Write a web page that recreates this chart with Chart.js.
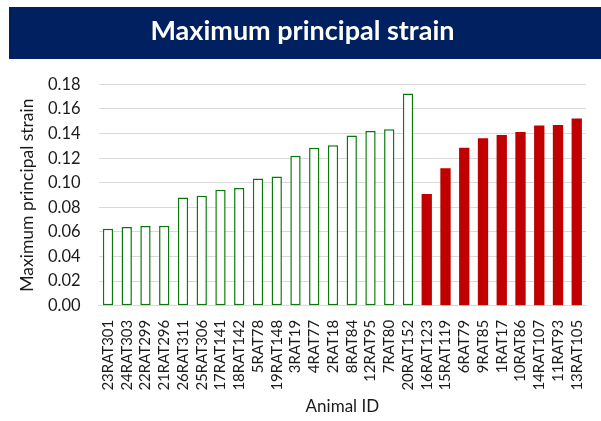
<!DOCTYPE html>
<html>
<head>
<meta charset="utf-8">
<script src="https://cdn.jsdelivr.net/npm/chart.js@4"></script>
<style>
    html, body { margin: 0; padding: 0; background: #fff; }
    #wrap { width: 601px; height: 421px; position: relative; }
</style>
</head>
<body>
<div id="wrap"><canvas id="strainChart" width="601" height="421"></canvas></div>
<script>
// 동물 ID (x축)
const animalIds = [
    '23RAT301', '24RAT303', '22RAT299', '21RAT296', '26RAT311', '25RAT306',
    '17RAT141', '18RAT142', '5RAT78', '19RAT148', '3RAT19', '4RAT77',
    '2RAT18', '8RAT84', '12RAT95', '7RAT80', '20RAT152',
    '16RAT123', '15RAT119', '6RAT79', '9RAT85', '1RAT17', '10RAT86',
    '14RAT107', '11RAT93', '13RAT105'
];

// 녹색 외곽선 막대 (앞 17개)
const outlineValues = [
    0.0627, 0.0640, 0.0649, 0.0650, 0.0881, 0.0895,
    0.0943, 0.0957, 0.1035, 0.1052, 0.1219, 0.1284,
    0.1305, 0.1384, 0.1421, 0.1435, 0.1725
];

// 빨간 채움 막대 (뒤 9개)
const filledValues = [
    0.0908, 0.1119, 0.1284, 0.1362, 0.1389, 0.1413, 0.1465, 0.1470, 0.1522
];

const yTicks = [0, 0.02, 0.04, 0.06, 0.08, 0.10, 0.12, 0.14, 0.16, 0.18];

const pad = (arr, before, after) =>
    Array(before).fill(null).concat(arr, Array(after).fill(null));

// 제목 배경 띠
const bannerPlugin = {
    id: 'banner',
    beforeDraw(chart) {
        const ctx = chart.ctx;
        ctx.save();
        ctx.fillStyle = '#002060';
        ctx.fillRect(9, 7, 592, 52);
        ctx.restore();
    }
};

const ctx = document.getElementById('strainChart').getContext('2d');
new Chart(ctx, {
    type: 'bar',
    data: {
        labels: animalIds,
        datasets: [
            {
                label: 'outline',
                data: pad(outlineValues, 0, filledValues.length),
                backgroundColor: '#ffffff',
                borderColor: '#0a780a',
                borderWidth: 1.5,
                borderSkipped: false
            },
            {
                label: 'filled',
                data: pad(filledValues, outlineValues.length, 0),
                backgroundColor: '#c00000',
                borderColor: '#c00000',
                borderWidth: 0
            }
        ]
    },
    options: {
        responsive: false,
        animation: false,
        layout: {
            padding: { left: 17, right: 13, top: 0, bottom: 4 }
        },
        datasets: {
            bar: {
                grouped: false,
                barPercentage: 0.55,
                categoryPercentage: 1.0
            }
        },
        scales: {
            x: {
                grid: { display: false },
                border: { display: true, color: '#d9d9d9', width: 1 },
                ticks: {
                    color: '#1a1a1a',
                    font: { family: 'Lato', size: 15 },
                    minRotation: 90,
                    maxRotation: 90,
                    autoSkip: false,
                    padding: 6
                },
                title: {
                    display: true,
                    text: 'Animal ID',
                    color: '#1a1a1a',
                    font: { family: 'Lato', size: 17 },
                    padding: { top: 0, bottom: 0 }
                }
            },
            y: {
                min: 0,
                max: 0.18,
                afterBuildTicks(axis) {
                    axis.ticks = yTicks.map(v => ({ value: v }));
                },
                // 축 제목과 눈금 라벨 사이 간격 줄이기
                afterFit(axis) {
                    axis.width -= 16;
                },
                grid: { color: '#d9d9d9', lineWidth: 1, drawTicks: false },
                border: { display: false },
                ticks: {
                    color: '#1a1a1a',
                    font: { family: 'Lato', size: 16.5 },
                    padding: 18,
                    callback: value => value.toFixed(2)
                },
                title: {
                    display: true,
                    text: 'Maximum principal strain',
                    color: '#1a1a1a',
                    font: { family: 'Lato', size: 17.5 },
                    padding: { top: 0, bottom: 8 }
                }
            }
        },
        plugins: {
            legend: { display: false },
            tooltip: { enabled: false },
            title: {
                display: true,
                text: 'Maximum principal strain',
                color: '#ffffff',
                font: { family: 'Lato', size: 27, weight: 'bold' },
                padding: { top: 15, bottom: 37 }
            }
        }
    },
    plugins: [bannerPlugin]
});
</script>
</body>
</html>
